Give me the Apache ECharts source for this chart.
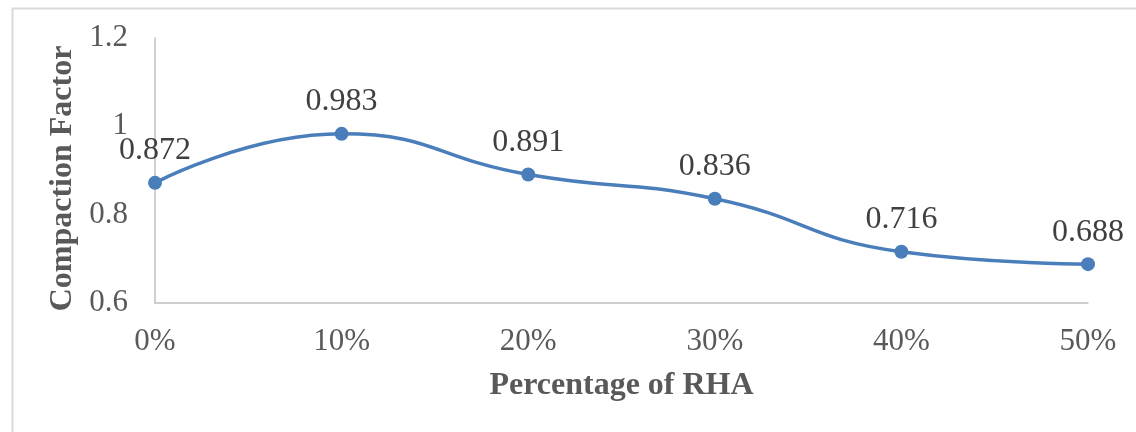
<!DOCTYPE html>
<html>
<head>
<meta charset="utf-8">
<title>Compaction Factor vs Percentage of RHA</title>
<script src="https://cdn.jsdelivr.net/npm/echarts@6/dist/echarts.min.js"></script>
<style>
  html, body { margin: 0; padding: 0; background: #ffffff; }
  #chart { width: 1136px; height: 432px; }
</style>
</head>
<body>
<div id="chart"></div>
<script>
// Compaction factor measured at each rice husk ash replacement level
const categories = ['0%', '10%', '20%', '30%', '40%', '50%'];
const compactionFactor = [0.872, 0.983, 0.891, 0.836, 0.716, 0.688];
const yTicks = { min: 0.6, max: 1.2, interval: 0.2 };

const serif = '"Liberation Serif", "Times New Roman", serif';
const lineBlue = '#4a7ebb';

const chart = echarts.init(document.getElementById('chart'), null, { renderer: 'canvas' });

chart.setOption({
  backgroundColor: '#ffffff',
  animation: false,
  graphic: [{
    type: 'rect',
    left: 10,
    top: 6,
    shape: { width: 1300, height: 600 },
    style: { fill: 'none', stroke: '#d9d9d9', lineWidth: 2 },
    silent: true
  }],
  grid: { left: 155, right: 48, top: 38, bottom: 129 },
  xAxis: {
    type: 'category',
    data: categories,
    boundaryGap: false,
    name: 'Percentage of RHA',
    nameLocation: 'middle',
    nameGap: 67,
    nameTextStyle: { fontFamily: serif, fontSize: 32, fontWeight: 'bold', color: '#595959' },
    axisLine: { lineStyle: { color: '#bfbfbf', width: 1.5 } },
    axisTick: { show: false },
    axisLabel: { fontFamily: serif, fontSize: 31, color: '#595959', margin: 23 },
    splitLine: { show: false }
  },
  yAxis: {
    type: 'value',
    min: yTicks.min,
    max: yTicks.max,
    interval: yTicks.interval,
    name: 'Compaction Factor',
    nameLocation: 'middle',
    nameGap: 76,
    nameTextStyle: {
      fontFamily: serif, fontSize: 32, fontWeight: 'bold', color: '#595959',
      padding: [0, 16, 0, 0]
    },
    axisLine: { show: true, lineStyle: { color: '#bfbfbf', width: 1.5 } },
    axisTick: { show: false },
    axisLabel: {
      fontFamily: serif, fontSize: 31, color: '#595959', margin: 27,
      formatter: v => String(parseFloat(v.toFixed(2)))
    },
    splitLine: { show: false }
  },
  series: [{
    type: 'line',
    data: compactionFactor,
    smooth: 0.5,
    symbol: 'circle',
    symbolSize: 14,
    itemStyle: { color: lineBlue },
    lineStyle: { color: lineBlue, width: 3.5 },
    label: {
      show: true,
      position: 'top',
      distance: 9,
      fontFamily: serif,
      fontSize: 32,
      color: '#404040',
      formatter: p => p.value.toFixed(3)
    }
  }]
});
</script>
</body>
</html>
